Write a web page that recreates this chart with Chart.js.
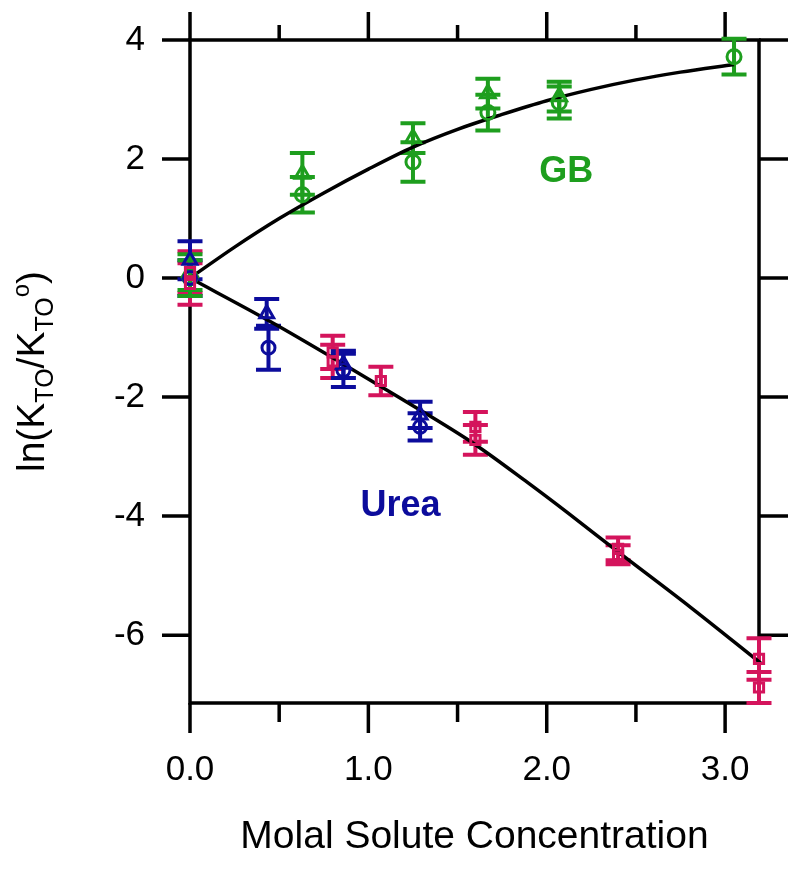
<!DOCTYPE html>
<html>
<head>
<meta charset="utf-8">
<script src="https://cdn.jsdelivr.net/npm/chart.js@4.4.1/dist/chart.umd.min.js"></script>
<style>
  html, body { margin: 0; padding: 0; background: #fff; }
</style>
</head>
<body>
<canvas id="chart" width="800" height="870"></canvas>
<script>
// GB series (two symbol sets)
const gbCircX = [0, 0.63, 1.25, 1.67, 2.07, 3.05];
const gbCircY = [0.0, 1.40, 1.95, 2.78, 2.95, 3.72];
const gbCircErr = [0.3, 0.3, 0.33, 0.3, 0.27, 0.3];
const gbTriX = [0, 0.63, 1.25, 1.67, 2.07];
const gbTriY = [0.1, 1.75, 2.35, 3.10, 3.05];
const gbTriErr = [0.3, 0.35, 0.25, 0.25, 0.25];

// Urea series
const ureaTriX = [0, 0.43, 0.86, 1.29];
const ureaTriY = [0.3, -0.6, -1.45, -2.3];
const ureaTriErr = [0.32, 0.25, 0.23, 0.22];
const ureaCircX = [0, 0.44, 0.86, 1.29];
const ureaCircY = [0.0, -1.17, -1.55, -2.5];
const ureaCircErr = [0.3, 0.37, 0.28, 0.23];
const ureaSqX = [0, 0, 0.80, 0.80, 1.07, 1.60, 1.60, 2.40, 2.40, 3.19, 3.19];
const ureaSqY = [0.1, -0.1, -1.25, -1.4, -1.73, -2.5, -2.72, -4.55, -4.65, -6.4, -6.88];
const ureaSqErr = [0.35, 0.35, 0.28, 0.28, 0.24, 0.25, 0.25, 0.19, 0.16, 0.35, 0.26];

// fitted curves
const gbFitX = [0, 0.25, 0.5, 0.75, 1.0, 1.25, 1.5, 1.75, 2.0, 2.25, 2.5, 2.75, 3.05];
const gbFitY = [0, 0.52, 1.0, 1.43, 1.83, 2.2, 2.5, 2.75, 2.98, 3.17, 3.33, 3.46, 3.59];
const ureaFitX = [0, 0.45, 0.84, 1.18, 1.6, 1.89, 2.12, 2.4, 2.81, 3.2];
const ureaFitY = [0, -0.73, -1.41, -2.02, -2.8, -3.43, -3.95, -4.6, -5.54, -6.47];

// axes
const xTicks = [0, 1, 2, 3];
const xMinor = [0.5, 1.5, 2.5];
const yTicks = [4, 2, 0, -2, -4, -6];

const GREEN = '#1e9e1e';
const BLUE = '#0c0c9c';
const PINK = '#d4145c';
const FONT = "'Liberation Sans', Arial, sans-serif";

const pts = (xs, ys) => xs.map((v, i) => ({ x: v, y: ys[i] }));

function markers(xs, ys, errs, color, style, r) {
    return {
        data: pts(xs, ys),
        errors: errs,
        showLine: false,
        pointStyle: style,
        pointRadius: r,
        pointBorderWidth: 3,
        borderColor: color,
        pointBorderColor: color,
        pointBackgroundColor: 'rgba(0,0,0,0)',
        clip: false
    };
}

function fitLine(xs, ys) {
    return {
        data: pts(xs, ys),
        showLine: true,
        borderColor: '#000',
        borderWidth: 3.5,
        pointRadius: 0,
        cubicInterpolationMode: 'monotone',
        clip: false
    };
}

// frame, outward ticks and error bars
const framePlugin = {
    id: 'framePlugin',
    beforeDatasetsDraw(chart) {
        const { ctx, chartArea: a, scales: { x, y } } = chart;
        ctx.save();
        ctx.strokeStyle = '#000';
        ctx.lineWidth = 3.5;
        ctx.strokeRect(a.left, a.top, a.right - a.left, a.bottom - a.top);
        ctx.beginPath();
        yTicks.forEach(v => {
            const py = y.getPixelForValue(v);
            ctx.moveTo(a.left - 28, py); ctx.lineTo(a.left, py);
            ctx.moveTo(a.right, py); ctx.lineTo(a.right + 29, py);
        });
        xTicks.forEach(v => {
            const px = x.getPixelForValue(v);
            ctx.moveTo(px, a.bottom); ctx.lineTo(px, a.bottom + 30);
            ctx.moveTo(px, a.top); ctx.lineTo(px, a.top - 28);
        });
        xMinor.forEach(v => {
            const px = x.getPixelForValue(v);
            ctx.moveTo(px, a.bottom); ctx.lineTo(px, a.bottom + 19);
            ctx.moveTo(px, a.top); ctx.lineTo(px, a.top - 15);
        });
        ctx.stroke();

        // error bars
        ctx.lineWidth = 4;
        chart.data.datasets.forEach(ds => {
            if (!ds.errors) return;
            ctx.strokeStyle = ds.borderColor;
            ctx.beginPath();
            ds.data.forEach((p, j) => {
                const px = x.getPixelForValue(p.x);
                const top = y.getPixelForValue(p.y + ds.errors[j]);
                const bot = y.getPixelForValue(p.y - ds.errors[j]);
                ctx.moveTo(px, top); ctx.lineTo(px, bot);
                ctx.moveTo(px - 12.5, top); ctx.lineTo(px + 12.5, top);
                ctx.moveTo(px - 12.5, bot); ctx.lineTo(px + 12.5, bot);
            });
            ctx.stroke();
        });
        ctx.restore();
    },
    afterDraw(chart) {
        const { ctx, chartArea: a, scales: { x, y } } = chart;
        ctx.save();
        // series labels
        ctx.font = 'bold 36px ' + FONT;
        ctx.textAlign = 'center';
        ctx.textBaseline = 'middle';
        ctx.fillStyle = GREEN;
        ctx.fillText('GB', x.getPixelForValue(2.11), y.getPixelForValue(1.78));
        ctx.fillStyle = BLUE;
        ctx.fillText('Urea', x.getPixelForValue(1.18), y.getPixelForValue(-3.83));

        // y title with subscripts
        const parts = [
            ['ln(K', 39, 0], ['TO', 25, 9], ['/K', 39, 0], ['TO', 25, 9], ['o', 24, -15], [')', 39, 0]
        ];
        let total = 0;
        parts.forEach(p => { ctx.font = p[1] + 'px ' + FONT; p.push(ctx.measureText(p[0]).width); total += p[3]; });
        ctx.translate(44, (a.top + a.bottom) / 2);
        ctx.rotate(-Math.PI / 2);
        ctx.textAlign = 'left';
        ctx.textBaseline = 'alphabetic';
        ctx.fillStyle = '#000';
        let cx = -total / 2;
        parts.forEach(p => {
            ctx.font = p[1] + 'px ' + FONT;
            ctx.fillText(p[0], cx, p[2]);
            cx += p[3];
        });
        ctx.restore();
    }
};

new Chart(document.getElementById('chart'), {
    type: 'scatter',
    data: {
        datasets: [
            markers(ureaSqX, ureaSqY, ureaSqErr, PINK, 'rect', 6.5),
            markers(ureaCircX, ureaCircY, ureaCircErr, BLUE, 'circle', 6.5),
            markers(ureaTriX, ureaTriY, ureaTriErr, BLUE, 'triangle', 8),
            markers(gbCircX, gbCircY, gbCircErr, GREEN, 'circle', 7),
            markers(gbTriX, gbTriY, gbTriErr, GREEN, 'triangle', 8.5),
            fitLine(gbFitX, gbFitY),
            fitLine(ureaFitX, ureaFitY)
        ]
    },
    options: {
        responsive: false,
        animation: false,
        layout: { padding: { top: 40, right: 41, left: 0, bottom: 0 } },
        plugins: {
            legend: { display: false },
            tooltip: { enabled: false }
        },
        scales: {
            x: {
                type: 'linear',
                min: 0,
                max: 3.19,
                grid: { display: false, drawTicks: true, tickLength: 40 },
                border: { display: false },
                afterBuildTicks: s => { s.ticks = xTicks.map(v => ({ value: v })); },
                afterFit: s => { s.height = 167; },
                ticks: {
                    padding: 6,
                    color: '#000',
                    maxRotation: 0,
                    autoSkip: false,
                    font: { family: FONT, size: 35 },
                    callback: v => Number(v).toFixed(1)
                },
                title: {
                    display: true,
                    text: 'Molal Solute Concentration',
                    color: '#000',
                    font: { family: FONT, size: 39 },
                    padding: { top: 0, bottom: 9 }
                }
            },
            y: {
                type: 'linear',
                min: -7.14,
                max: 4,
                grid: { display: false, drawTicks: true, tickLength: 40 },
                border: { display: false },
                afterBuildTicks: s => { s.ticks = yTicks.map(v => ({ value: v })); },
                afterFit: s => { s.width = 190; },
                ticks: {
                    padding: 5,
                    color: '#000',
                    autoSkip: false,
                    font: { family: FONT, size: 35 },
                    callback: v => String(v)
                }
            }
        }
    },
    plugins: [framePlugin]
});
</script>
</body>
</html>
